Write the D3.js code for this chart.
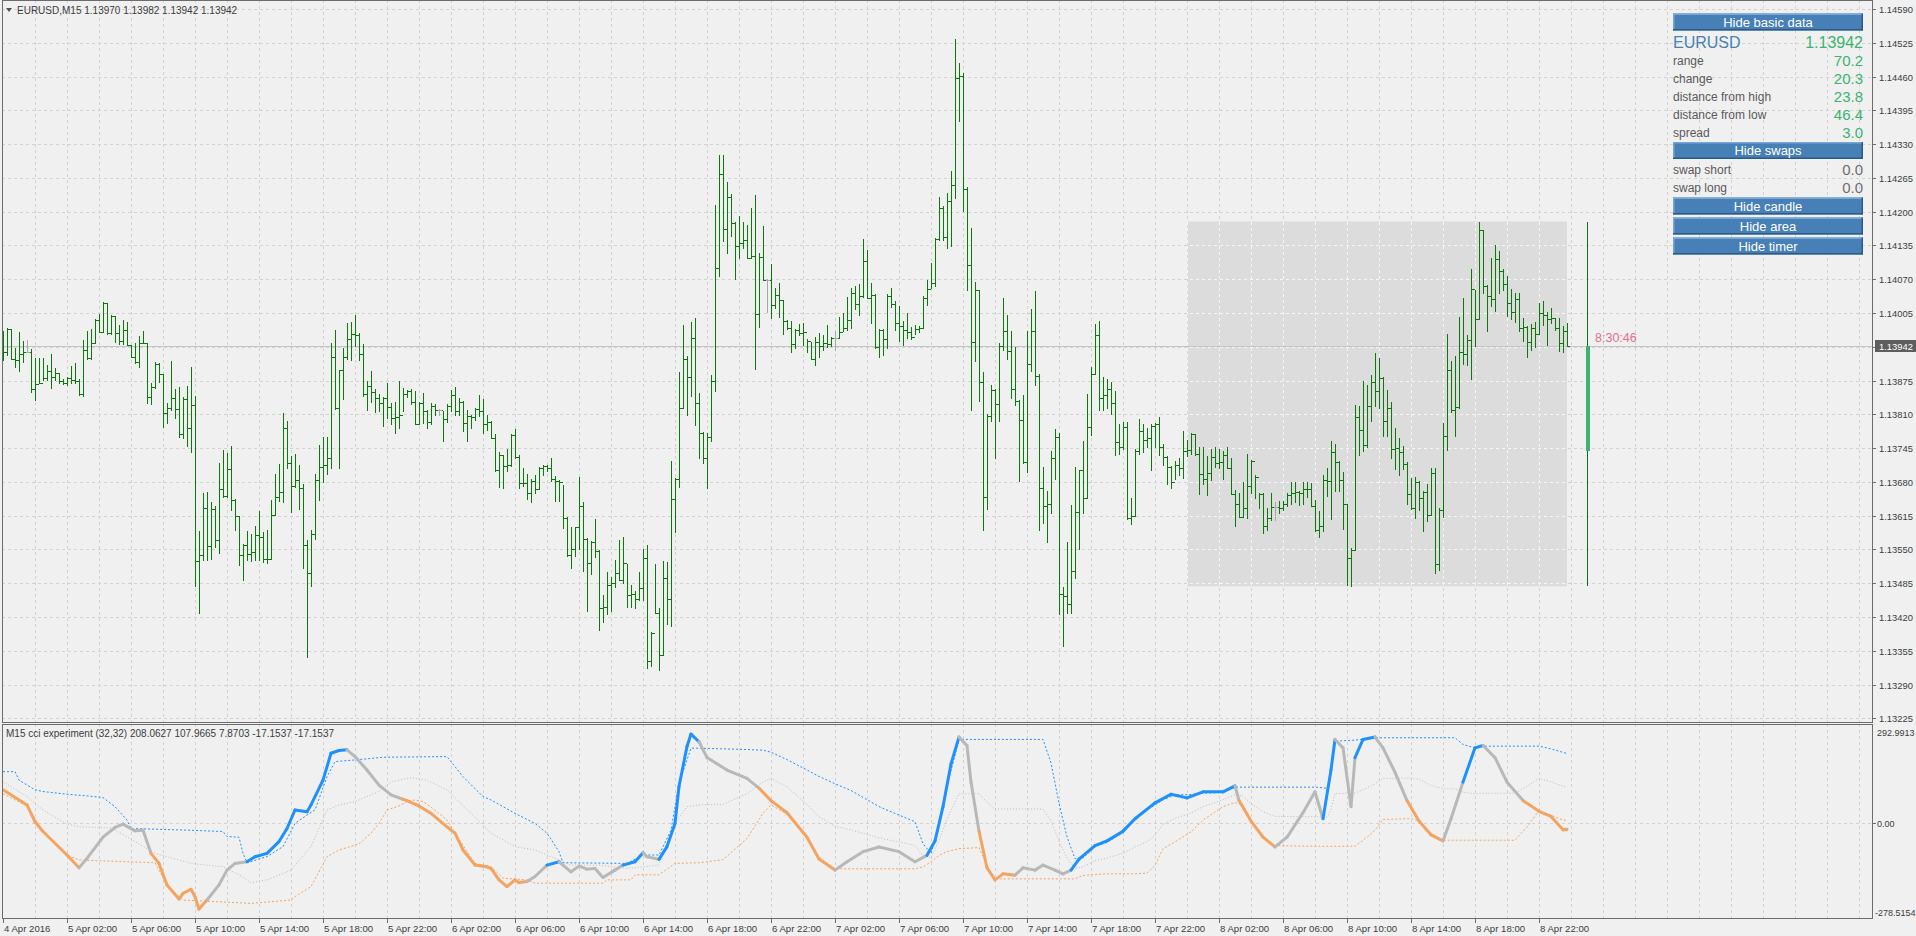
<!DOCTYPE html>
<html><head><meta charset="utf-8">
<script src="https://cdn.jsdelivr.net/npm/d3@7"></script>
<style>
html,body{margin:0;padding:0;background:#f0f0f0;overflow:hidden}
svg{display:block;font-family:"Liberation Sans",Arial,sans-serif}
</style></head><body>
<svg id="c" width="1916" height="936"></svg>
<script>
// ---------------- DATA ----------------
const headerText = "EURUSD,M15  1.13970 1.13982 1.13942 1.13942";
const indHeader = "M15 cci experiment (32,32) 208.0627 107.9665 7.8703 -17.1537 -17.1537";
const firstBarTime = "2016-04-04 22:00";
const PRICE_BASE = 1.1, POINT = 0.00001;   // prices below are in points above 1.10000
const firstOpen = 3931;
const highPts = [
3970,3977,3975,3937,3968,3951,3953,3936,3919,3918, 3918,3905,3926,3900,3889,3877,3882,3903,3908,3878,
3953,3970,3974,3993,4003,4027,4024,4001,3999,3982, 3991,3988,3943,3947,3961,3970,3947,3870,3911,3908,
3887,3831,3913,3858,3863,3844,3864,3902,3845,3585, 3658,3660,3642,3633,3717,3741,3736,3749,3647,3614,
3561,3586,3579,3595,3624,3584,3587,3645,3696,3715, 3812,3798,3730,3733,3713,3676,3569,3587,3696,3751,
3767,3767,3947,3972,3896,3937,3986,3988,4001,3967, 3945,3874,3893,3859,3850,3844,3870,3831,3834,3875,
3861,3857,3858,3854,3833,3851,3818,3831,3829,3821, 3816,3829,3856,3862,3841,3835,3818,3809,3823,3847,
3839,3809,3798,3772,3737,3732,3743,3772,3782,3731, 3707,3695,3686,3694,3708,3713,3712,3725,3692,3684,
3674,3612,3593,3594,3689,3641,3572,3566,3609,3548, 3462,3506,3497,3530,3568,3573,3521,3482,3470,3507,
3551,3558,3392,3521,3437,3528,3526,3720,3687,3891, 3981,3923,3988,3996,3851,3776,3775,3885,4213,4309,
4309,4258,4234,4180,4192,4181,4175,4208,4233,4121, 4172,4071,4099,4054,4062,4030,3991,3989,3974,3983,
3985,3954,3949,3958,3967,3962,3982,3959,3971,3998, 4005,4036,4053,4057,4061,4148,4127,4063,4042,3975,
3974,4042,4053,4029,4019,3990,4005,3978,3982,3980, 4038,4069,4102,4150,4229,4210,4235,4278,4533,4486,
4467,4248,4169,4065,4050,3891,3811,3866,3858,3947, 4033,4001,3970,3939,3837,3847,3971,4012,4048,3887,
3709,3662,3740,3781,3774,3477,3564,3636,3709,3703, 3758,3849,3901,3984,3989,3881,3878,3872,3854,3791,
3796,3796,3648,3744,3801,3791,3783,3792,3793,3804, 3752,3729,3711,3721,3725,3777,3760,3775,3773,3747,
3747,3730,3743,3747,3744,3739,3747,3725,3664,3658, 3679,3734,3722,3694,3658,3658,3630,3658,3642,3643,
3644,3658,3679,3680,3662,3680,3679,3677,3646,3623, 3693,3706,3758,3752,3720,3699,3637,3552,3828,3826,
3875,3867,3885,3928,3918,3881,3856,3833,3784,3764, 3749,3718,3688,3690,3682,3662,3675,3707,3706,3630,
3794,3964,3912,3923,3998,4033,3962,4089,4049,4181, 4164,4058,4111,4135,4124,4090,4076,4051,4044,4043,
3996,3980,3984,3987,4024,4028,4006,4014,3995,3996, 3980,3985];
const lowPts = [
3914,3925,3916,3902,3894,3911,3929,3852,3837,3870, 3876,3876,3861,3876,3870,3868,3866,3871,3871,3847,
3846,3916,3916,3948,3969,3969,3964,3964,3950,3945, 3945,3943,3921,3908,3902,3947,3831,3829,3860,3873,
3786,3794,3818,3802,3767,3764,3749,3738,3480,3427, 3529,3529,3532,3554,3544,3651,3651,3626,3588,3520,
3492,3529,3528,3529,3529,3525,3524,3531,3616,3643, 3642,3706,3622,3670,3627,3514,3343,3480,3571,3646,
3680,3695,3706,3821,3706,3839,3916,3914,3941,3914, 3845,3819,3834,3815,3816,3788,3802,3792,3775,3783,
3816,3844,3829,3791,3792,3793,3784,3791,3809,3809, 3758,3795,3816,3809,3808,3778,3759,3784,3799,3806,
3775,3780,3764,3700,3670,3669,3700,3710,3725,3669, 3672,3647,3641,3659,3667,3694,3700,3682,3644,3644,
3591,3538,3515,3537,3551,3508,3432,3502,3535,3394, 3411,3425,3432,3477,3492,3485,3439,3439,3437,3452,
3453,3321,3325,3427,3318,3346,3406,3402,3583,3670, 3823,3808,3846,3790,3725,3717,3669,3758,3854,4076,
4144,4121,4154,4071,4111,4130,4111,4111,3897,3978, 4069,4007,3996,4015,3998,3965,3975,3929,3938,3963,
3943,3930,3917,3905,3920,3934,3940,3941,3934,3957, 3971,3972,3976,4012,4002,4036,4033,3985,3937,3920,
3924,3937,4016,3972,3951,3943,3957,3955,3965,3968, 3976,4021,4053,4057,4146,4146,4131,4133,4226,4374,
4202,4050,3819,3912,3835,3588,3627,3798,3726,3798, 3934,3917,3841,3828,3682,3717,3699,3893,3866,3588,
3600,3564,3621,3686,3426,3365,3427,3427,3495,3551, 3621,3649,3770,3887,3819,3818,3822,3810,3731,3733,
3744,3609,3599,3615,3733,3737,3748,3702,3748,3731, 3713,3675,3668,3686,3694,3688,3729,3733,3731,3656,
3675,3654,3683,3709,3707,3685,3706,3656,3595,3613, 3613,3610,3658,3648,3630,3581,3587,3607,3607,3621,
3626,3633,3637,3642,3635,3637,3651,3633,3586,3573, 3585,3653,3608,3662,3662,3589,3482,3479,3549,3731,
3739,3747,3798,3826,3822,3768,3768,3725,3704,3693, 3704,3637,3627,3610,3626,3585,3605,3617,3504,3511,
3612,3741,3814,3769,3822,3906,3904,3878,3941,3994, 4044,3971,4019,4009,4044,4049,3999,3993,3987,3971,
3952,3921,3934,3939,3964,3982,3943,3985,3973,3932, 3930,3942];
const closePts = [
3929,3974,3916,3914,3927,3930,3930,3858,3868,3870, 3879,3894,3881,3890,3875,3870,3879,3876,3874,3850,
3934,3918,3948,3991,3969,4024,3966,3999,3966,3951, 3973,3943,3921,3911,3948,3947,3843,3862,3907,3887,
3812,3823,3842,3821,3773,3839,3783,3828,3527,3540, 3630,3556,3627,3568,3667,3653,3704,3645,3614,3540,
3559,3542,3545,3577,3573,3531,3532,3616,3650,3660, 3783,3717,3672,3683,3669,3558,3504,3579,3683,3709,
3712,3725,3920,3823,3896,3920,3954,3965,3962,3927, 3850,3864,3852,3841,3831,3841,3825,3802,3805,3808,
3849,3854,3833,3792,3831,3816,3796,3826,3819,3819, 3801,3826,3848,3816,3833,3793,3807,3804,3821,3817,
3791,3796,3764,3702,3731,3711,3713,3771,3727,3677, 3678,3658,3682,3667,3707,3710,3706,3685,3682,3680,
3611,3539,3550,3594,3633,3571,3523,3564,3546,3437, 3439,3482,3486,3504,3492,3523,3462,3465,3454,3475,
3533,3335,3389,3427,3346,3495,3455,3647,3685,3823, 3917,3882,3956,3831,3775,3725,3766,3874,4091,4273,
4166,4228,4179,4134,4140,4146,4111,4114,4003,4112, 4069,4069,4021,4040,4030,3989,3976,3945,3972,3966,
3968,3951,3917,3949,3941,3947,3945,3957,3957,3968, 3976,3992,4043,4022,4038,4106,4034,4040,3939,3972,
3954,4038,4022,3985,3980,3972,3968,3958,3974,3976, 4033,4051,4063,4148,4208,4152,4221,4251,4458,4461,
4244,4097,3949,4050,3873,3651,3806,3856,3829,3941, 3971,3931,3858,3835,3800,3719,3907,3971,3883,3668,
3634,3638,3726,3767,3464,3460,3445,3508,3622,3702, 3649,3785,3887,3963,3842,3847,3858,3832,3757,3748,
3785,3610,3614,3740,3777,3760,3765,3788,3791,3748, 3727,3709,3679,3713,3706,3739,3742,3773,3734,3696,
3686,3697,3728,3717,3718,3732,3706,3656,3637,3613, 3630,3672,3720,3690,3656,3596,3611,3632,3632,3629,
3638,3654,3658,3661,3659,3667,3666,3634,3587,3596, 3683,3681,3738,3718,3684,3637,3533,3549,3805,3779,
3750,3826,3872,3854,3879,3797,3823,3744,3746,3738, 3715,3656,3629,3679,3649,3660,3616,3697,3522,3626,
3768,3895,3819,3824,3929,3927,3953,4051,3994,4164, 4057,4037,4031,4109,4086,4060,4025,4007,4031,3976,
3978,3950,3977,3964,4005,4001,3993,3995,3976,3948, 3970,3942];

const priceTicks = [1.14590,1.14525,1.14460,1.14395,1.14330,1.14265,1.14200,1.14135,1.14070,1.14005,
  1.13940,1.13875,1.13810,1.13745,1.13680,1.13615,1.13550,1.13485,1.13420,1.13355,1.13290,1.13225];
const indMax = 292.9913, indMin = -278.5154;
const indTickLabels = ["292.9913","0.00","-278.5154"];

// indicator main line: (bar index, value, state b=above band, o=below band, n=neutral)
const cciBar = [0,6,8,10,16,19,21,25,28,30,33,35,37,39,41,44,45,47,48,49,51,54,56,58,61,63,66,69,71,73,76,77,80,82,84,86,88,91,94,97,100,101,104,107,111,113,115,118,121,122,124,126,128,129,131,133,136,139,142,144,146,148,150,153,155,158,160,161,163,164,166,168,169,171,172,174,
176,181,186,189,192,196,201,204,208,211,215,219,224,228,231,233,235,237,239,241,242,244,246,248,250,253,255,258,260,263,265,267,269,273,276,280,283,288,292,296,300,305,308,309,312,315,318,321,325,328,330,332,333,335,337,338,340,343,345,348,351,354,357,360,362,365,368,370,373,376,380,384,387,390,391];
const cciVal = [100,55,5,-24,-94,-132,-104,-41,-12,-2,-22,-20,-89,-119,-183,-225,-208,-196,-218,-255,-228,-183,-139,-119,-114,-99,-89,-54,-15,40,35,55,129,209,217,219,199,159,114,85,72,68,52,30,-10,-29,-79,-124,-129,-134,-168,-188,-168,-176,-173,-158,-124,-114,-144,-127,-136,-134,-161,-139,-124,-114,-87,-99,-104,-107,-69,0,110,229,266,243,
196,159,134,105,68,32,-41,-106,-139,-114,-84,-70,-84,-114,-95,-52,50,177,257,232,123,-23,-132,-168,-150,-154,-132,-139,-124,-139,-150,-139,-106,-66,-52,-23,14,61,87,76,94,94,112,68,7,-41,-70,-41,32,94,14,159,250,225,50,196,250,257,225,152,68,7,-34,-52,14,123,225,232,196,123,68,36,21,-19,-17.1537];
const cciState = "oooooo" + "nnnnnnn" + "oooooooo" + "nnnn" + "bbbbbbbbbbb" + "nnnnn" + "oooooooooooooo" + "nn" + "b" + "nnnnnnn" + "bb" + "nnn" + "bbbbbb" +
  "nnnn" + "ooooo" + "nnnnnn" + "bbbb" + "nnn" + "oooo" + "nnnnnn" + "bbbbbbbbbbb" + "n" + "ooo" + "nnnn" + "bb" + "nnn" + "bb" + "nnn" + "ooo" + "nn" + "bb" + "nnn" + "oooo";

// bands, first part
const upperBarA = [0,3,4,8,10,16,21,25,28,31,32,46,55,56,59,60,61,66,70,73,76,78,81,83,88,95,111,112,115,120,122,128,133,136,139,140,156,160,164,167,169,172,174];
const upperValA = [154,154,129,100,95,87,82,77,50,10,-15,-20,-24,-39,-41,-89,-117,-99,-69,0,25,40,139,184,189,197,199,184,139,80,70,30,0,-29,-84,-117,-119,-94,-94,-20,119,224,224];
const lowerBarA = [0,6,10,16,19,38,41,44,45,62,72,73,77,81,84,89,92,94,96,99,101,103,105,108,111,113,118,122,125,131,133,150,151,157,158,164,168,174];
const lowerValA = [88,52,-24,-94,-109,-117,-183,-218,-228,-238,-228,-218,-188,-99,-79,-61,-29,0,40,52,65,70,65,40,10,-29,-119,-129,-163,-168,-178,-178,-168,-168,-153,-153,-119,-117];
const midBarA = [0,6,10,16,19,27,33,38,47,55,59,62,66,72,77,81,84,88,94,97,102,106,111,117,122,128,133,138,142,149,156,160,164,168,171,174];
const midValA = [124,80,40,-2,-10,-13,-54,-89,-119,-129,-153,-176,-168,-139,-69,40,55,65,95,124,136,129,100,30,-29,-69,-79,-104,-124,-124,-134,-129,-124,1,50,55];
// bands, second part (common bar indices)
const bandBarB = [180,186,190,192,196,201,204,208,212,219,224,228,230,232,234,236,239,244,246,248,260,262,264,266,268,270,273,276,280,283,286,288,290,293,297,300,305,308,310,312,315,318,328,331,332,333,338,341,343,345,352,354,357,360,363,365,368,370,378,381,384,387,389,391];
const upperValB = [222,220,218,212,190,159,140,118,98,50,25,5,-60,-90,-5,110,250,250,250,250,250,180,60,-40,-105,-103,-70,-56,-28,10,40,55,70,85,86,90,92,108,108,108,108,108,108,105,150,245,248,252,255,255,255,255,255,255,255,235,225,230,230,230,230,222,215,208.0627];
const lowerValB = [-108,-45,30,55,28,-45,-100,-135,-135,-135,-135,-135,-130,-114,-95,-84,-75,-72,-125,-165,-165,-165,-165,-165,-165,-155,-152,-150,-150,-150,-148,-125,-75,-55,-25,10,50,62,55,10,-38,-66,-68,-68,-68,-68,-68,-41,-20,12,14,8,-30,-50,-50,-50,-50,-50,-50,-10,38,25,14,7.8703];
const midValB = [57,88,124,134,109,57,20,-9,-19,-43,-55,-65,-95,-102,-50,13,88,89,63,43,43,8,-53,-103,-135,-129,-111,-103,-89,-70,-54,-35,-3,15,31,50,71,85,82,59,35,21,20,19,41,89,90,106,118,134,135,132,113,103,103,93,88,90,90,110,134,124,115,107.9665];

const infoSymbol = "EURUSD", infoPrice = "1.13942";
const infoLabels = ["range","change","distance from high","distance from low","spread"];
const infoValues = ["70.2","20.3","23.8","46.4","3.0"];
const swapLabels = ["swap short","swap long"];
const swapValues = ["0.0","0.0"];
const buttonLabels = ["Hide basic data","Hide swaps","Hide candle","Hide area","Hide timer"];
const timerText = "8:30:46";

// ---------------- CHART ----------------
const svg = d3.select("#c");
const N = highPts.length;
const toPrice = p => PRICE_BASE + p * POINT;
const bars = highPts.map((h, i) => ({
  i, high: toPrice(h), low: toPrice(lowPts[i]), close: toPrice(closePts[i]),
  open: toPrice(i === 0 ? firstOpen : closePts[i - 1]),
  doji: (i === 0 ? firstOpen : closePts[i - 1]) === closePts[i]
}));
const parse = d3.timeParse("%Y-%m-%d %H:%M");
const t0 = parse(firstBarTime);
const timeOf = i => d3.timeMinute.offset(t0, 15 * i);

const PL = 2, PR = 1872, MT = 0, MB = 722, IT = 724, IB = 918;
const x = d3.scaleLinear().domain([0, N - 1]).range([3, 3 + 4 * (N - 1)]);
const y = d3.scaleLinear().domain([1.13225, 1.14590]).range([718.3, 9]);
const yi = d3.scaleLinear().domain([indMin, indMax]).range([917, 725]);
const px = v => Math.round(v) + 0.5;

const gridCol = "#d2d2d2", axisCol = "#6c6c6c", textCol = "#3c3c3c";

svg.append("rect").attr("width", 1916).attr("height", 936).attr("fill", "#f0f0f0");

const defs = svg.append("defs");
defs.append("clipPath").attr("id", "mainClip").append("rect").attr("x", PL).attr("y", MT).attr("width", PR - PL).attr("height", MB - MT);
defs.append("clipPath").attr("id", "indClip").append("rect").attr("x", PL).attr("y", IT).attr("width", PR - PL).attr("height", IB - IT);

const vGrid = d3.range(8, 470, 8).filter(i => x(i) < PR - 1);
function drawGrid(g, col, y0, y1, yt) {
  g.selectAll(".vg").data(vGrid).join("line").attr("class", "vg")
    .attr("x1", d => px(x(d))).attr("x2", d => px(x(d))).attr("y1", y0).attr("y2", y1)
    .attr("stroke", col).attr("stroke-dasharray", "3,3");
  if (yt) g.selectAll(".hg").data(yt).join("line").attr("class", "hg")
    .attr("x1", PL).attr("x2", PR).attr("y1", d => px(y(d))).attr("y2", d => px(y(d)))
    .attr("stroke", col).attr("stroke-dasharray", "3,3");
}
const gMain = svg.append("g").attr("clip-path", "url(#mainClip)");
drawGrid(gMain.append("g"), gridCol, MT, MB, priceTicks);

// today's area
const dayStart = 296;
const dayBars = bars.slice(dayStart);
const dayHigh = d3.max(dayBars, d => d.high), dayLow = d3.min(dayBars, d => d.low);
const dayOpen = bars[dayStart].open, lastClose = bars[N - 1].close;
const areaX0 = x(dayStart), areaX1 = x(N - 1);
gMain.append("rect").attr("x", areaX0).attr("y", y(dayHigh)).attr("width", areaX1 - areaX0).attr("height", y(dayLow) - y(dayHigh)).attr("fill", "#dcdcdc");
defs.append("clipPath").attr("id", "areaClip").append("rect").attr("x", areaX0).attr("y", y(dayHigh)).attr("width", areaX1 - areaX0).attr("height", y(dayLow) - y(dayHigh));
drawGrid(gMain.append("g").attr("clip-path", "url(#areaClip)"), "#f6f6f6", MT, MB, priceTicks);

gMain.append("line").attr("x1", PL).attr("x2", PR).attr("y1", px(y(lastClose))).attr("y2", px(y(lastClose))).attr("stroke", "#c4c4c4");

const gb = gMain.append("g").attr("shape-rendering", "crispEdges");
bars.forEach(b => {
  const c = b.doji ? "#a8a8a8" : "#0a780a";
  const X = Math.round(x(b.i));
  gb.append("line").attr("x1", X + 0.5).attr("x2", X + 0.5).attr("y1", Math.round(y(b.high))).attr("y2", Math.round(y(b.low)) + 1).attr("stroke", c);
  gb.append("line").attr("x1", X - 1).attr("x2", X).attr("y1", px(y(b.open))).attr("y2", px(y(b.open))).attr("stroke", c);
  gb.append("line").attr("x1", X + 1).attr("x2", X + 3).attr("y1", px(y(b.close))).attr("y2", px(y(b.close))).attr("stroke", c);
});

const cX = Math.round(x(N - 1 + 5));
gb.append("line").attr("x1", cX + 0.5).attr("x2", cX + 0.5).attr("y1", y(dayHigh)).attr("y2", y(dayLow)).attr("stroke", "#0a780a");
gb.append("rect").attr("x", cX - 1).attr("width", 4).attr("y", y(lastClose)).attr("height", y(dayOpen) - y(lastClose)).attr("fill", "#3cb371");
gMain.append("text").attr("x", cX + 8).attr("y", y(lastClose) - 4).attr("fill", "#e0708e").attr("font-size", 12.5).text(timerText);

// ---------------- INDICATOR ----------------
const gInd = svg.append("g").attr("clip-path", "url(#indClip)");
drawGrid(gInd.append("g"), gridCol, IT, IB, null);
gInd.append("line").attr("x1", PL).attr("x2", PR).attr("y1", px(yi(0))).attr("y2", px(yi(0))).attr("stroke", gridCol).attr("stroke-dasharray", "3,3");
const lineGen = d3.line().x(d => x(d[0])).y(d => yi(d[1]));
const zip = (a, b) => a.map((v, k) => [v, b[k]]);
const upperPts = zip(upperBarA, upperValA).concat(zip(bandBarB, upperValB));
const lowerPts = zip(lowerBarA, lowerValA).concat(zip(bandBarB, lowerValB));
const midPts = zip(midBarA, midValA).concat(zip(bandBarB, midValB));
gInd.append("path").attr("d", lineGen(midPts)).attr("fill", "none").attr("stroke", "#bcbcbc").attr("stroke-dasharray", "1,2");
gInd.append("path").attr("d", lineGen(upperPts)).attr("fill", "none").attr("stroke", "#1e90ff").attr("stroke-dasharray", "2,2");
gInd.append("path").attr("d", lineGen(lowerPts)).attr("fill", "none").attr("stroke", "#f4a460").attr("stroke-dasharray", "2,2");
const stCol = { b: "#1e90ff", o: "#f4a460", n: "#b8b8b8" };
const cciPts = zip(cciBar, cciVal);
for (let k = 1; k < cciPts.length; k++) {
  gInd.append("path").attr("d", lineGen([cciPts[k - 1], cciPts[k]])).attr("fill", "none")
    .attr("stroke", stCol[cciState[k]] || "#b8b8b8").attr("stroke-width", 3).attr("stroke-linecap", "round");
}

// ---------------- FRAMES & AXES ----------------
const fr = svg.append("g").attr("fill", "none").attr("stroke", axisCol).attr("shape-rendering", "crispEdges");
fr.append("rect").attr("x", PL + 0.5).attr("y", MT + 0.5).attr("width", PR - PL).attr("height", MB - MT);
fr.append("rect").attr("x", PL + 0.5).attr("y", IT + 0.5).attr("width", PR - PL).attr("height", IB - IT);

const ax = svg.append("g").attr("font-size", 9.4).attr("fill", textCol);
priceTicks.forEach(p => {
  const Y = Math.round(y(p));
  ax.append("line").attr("x1", PR).attr("x2", PR + 4).attr("y1", Y + 0.5).attr("y2", Y + 0.5).attr("stroke", axisCol);
  ax.append("text").attr("x", 1879).attr("y", Y + 3.5).text(p.toFixed(5));
});
const cy = Math.round(y(lastClose));
ax.append("rect").attr("x", 1875).attr("y", cy - 6).attr("width", 41).attr("height", 12).attr("fill", "#5e5e5e");
ax.append("text").attr("x", 1879).attr("y", cy + 3.5).attr("fill", "#ffffff").text(lastClose.toFixed(5));

const indTickVals = [indMax, 0, indMin];
indTickVals.forEach((v, k) => {
  const Y = k === 0 ? 732 : k === 2 ? 912 : Math.round(yi(v));
  if (k === 1) ax.append("line").attr("x1", PR).attr("x2", PR + 4).attr("y1", Y + 0.5).attr("y2", Y + 0.5).attr("stroke", axisCol);
  ax.append("text").attr("x", k === 2 ? 1875 : 1877).attr("y", Y + 3.5).attr("font-size", 9).text(indTickLabels[k]);
});

const fmtFirst = d3.timeFormat("%-d %b %Y"), fmt = d3.timeFormat("%-d %b %H:%M");
const ta = svg.append("g").attr("font-size", 9.6).attr("fill", textCol);
d3.range(0, N, 16).forEach(i => {
  const X = Math.round(x(i));
  ta.append("line").attr("x1", X + 0.5).attr("x2", X + 0.5).attr("y1", IB).attr("y2", IB + 5).attr("stroke", axisCol);
  ta.append("text").attr("x", X + 1).attr("y", 932).text(i === 0 ? fmtFirst(timeOf(i)) : fmt(timeOf(i)));
});

svg.append("path").attr("d", "M6,8 L12,8 L9,12 Z").attr("fill", "#505050");
svg.append("text").attr("x", 17).attr("y", 14).attr("font-size", 10).attr("fill", textCol).text(headerText);
svg.append("text").attr("x", 6).attr("y", 737).attr("font-size", 10).attr("fill", textCol).text(indHeader);

// ---------------- INFO PANEL ----------------
const IX0 = 1673, IX1 = 1863;
const gi = svg.append("g");
function button(label, yTop) {
  gi.append("rect").attr("x", IX0).attr("y", yTop).attr("width", IX1 - IX0).attr("height", 17).attr("fill", "#4680b6");
  gi.append("rect").attr("x", IX0).attr("y", yTop).attr("width", IX1 - IX0).attr("height", 1.5).attr("fill", "#7aa6d4");
  gi.append("rect").attr("x", IX0).attr("y", yTop).attr("width", 1.5).attr("height", 17).attr("fill", "#7aa6d4");
  gi.append("rect").attr("x", IX0).attr("y", yTop + 15.5).attr("width", IX1 - IX0).attr("height", 1.5).attr("fill", "#2a5a8a");
  gi.append("rect").attr("x", IX1 - 1.5).attr("y", yTop).attr("width", 1.5).attr("height", 17).attr("fill", "#2a5a8a");
  gi.append("text").attr("x", (IX0 + IX1) / 2).attr("y", yTop + 13).attr("text-anchor", "middle")
    .attr("font-size", 13).attr("fill", "#ffffff").text(label);
}
const btnY = [13.5, 142, 197.5, 217.5, 237.5];
buttonLabels.forEach((l, k) => button(l, btnY[k]));
gi.append("text").attr("x", IX0).attr("y", 48).attr("font-size", 16).attr("fill", "#4682b4").text(infoSymbol);
gi.append("text").attr("x", IX1).attr("y", 48).attr("font-size", 16).attr("fill", "#3cb371").attr("text-anchor", "end").text(infoPrice);
infoLabels.forEach((l, k) => {
  const Y = 65 + k * 18;
  gi.append("text").attr("x", IX0).attr("y", Y).attr("font-size", 12).attr("fill", "#5a5a5a").text(l);
  gi.append("text").attr("x", IX1).attr("y", Y + 1).attr("font-size", 15).attr("fill", "#3cb371").attr("text-anchor", "end").text(infoValues[k]);
});
swapLabels.forEach((l, k) => {
  const Y = 174 + k * 18;
  gi.append("text").attr("x", IX0).attr("y", Y).attr("font-size", 12).attr("fill", "#5a5a5a").text(l);
  gi.append("text").attr("x", IX1).attr("y", Y + 1).attr("font-size", 15).attr("fill", "#6e6e6e").attr("text-anchor", "end").text(swapValues[k]);
});
</script>
</body></html>
